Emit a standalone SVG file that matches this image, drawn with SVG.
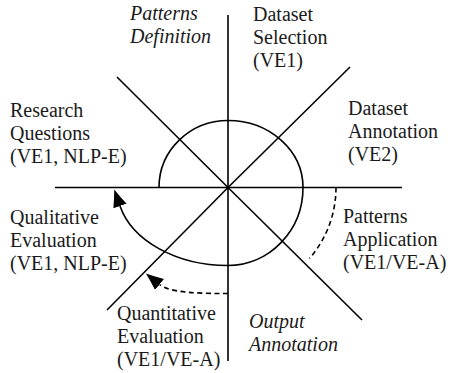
<svg xmlns="http://www.w3.org/2000/svg" width="453" height="373" viewBox="0 0 453 373">
<style>
.ln{stroke:#000;stroke-width:1.6;fill:none}
.ds{stroke:#000;stroke-width:1.6;fill:none;stroke-dasharray:5 3.5}
.tx{font-family:'Liberation Serif','Times New Roman',serif;font-size:20px;fill:#1a1a1a}
.it{font-style:italic}
</style>
<defs>
<marker id="ah" markerUnits="userSpaceOnUse" markerWidth="20" markerHeight="16" viewBox="0 -8 20 16" refX="0" refY="0" orient="auto">
<path d="M0,-7 Q9,-3 17.5,0 Q9,3 0,7 Z" fill="#000"/>
</marker>
</defs>
<rect width="453" height="373" fill="#fff"/>
<g id="connectors">
<line class="ln" x1="55" y1="187.5" x2="402" y2="187.5"/>
<line class="ln" x1="228" y1="15" x2="228" y2="361"/>
<line class="ln" x1="228" y1="187.5" x2="350" y2="67"/>
<line class="ln" x1="117" y1="77" x2="228" y2="187.5"/>
<line class="ln" x1="228" y1="187.5" x2="107" y2="310"/>
<line class="ln" x1="228" y1="187.5" x2="362" y2="320"/>
<path class="ln" d="M159,187.5 A69 67 0 0 1 228,120.5 A75 67 0 0 1 303,187.5 A75 78 0 0 1 228,265.5 A111 78 0 0 1 120,206" marker-end="url(#ah)"/>
<path class="ds" d="M336,187.5 A108 108 0 0 1 309.5,258.4"/>
<path class="ds" d="M228,293.5 C200,293.5 170,293 159.5,284.5" marker-end="url(#ah)"/>
</g>
<g id="patterns-definition"><text class="tx it"><tspan x="130" y="20">Patterns</tspan><tspan x="130" y="43">Definition</tspan></text></g>
<g id="dataset-selection"><text class="tx"><tspan x="253" y="21">Dataset</tspan><tspan x="253" y="44">Selection</tspan><tspan x="253" y="67">(VE1)</tspan></text></g>
<g id="research-questions"><text class="tx"><tspan x="10" y="117">Research</tspan><tspan x="10" y="140">Questions</tspan><tspan x="10" y="163">(VE1, NLP-E)</tspan></text></g>
<g id="dataset-annotation"><text class="tx"><tspan x="348" y="115">Dataset</tspan><tspan x="348" y="138">Annotation</tspan><tspan x="348" y="161">(VE2)</tspan></text></g>
<g id="qualitative-evaluation"><text class="tx"><tspan x="10" y="224">Qualitative</tspan><tspan x="10" y="247">Evaluation</tspan><tspan x="10" y="270">(VE1, NLP-E)</tspan></text></g>
<g id="patterns-application"><text class="tx"><tspan x="343" y="223">Patterns</tspan><tspan x="343" y="246">Application</tspan><tspan x="343" y="269">(VE1/VE-A)</tspan></text></g>
<g id="quantitative-evaluation"><text class="tx"><tspan x="117" y="320">Quantitative</tspan><tspan x="117" y="343">Evaluation</tspan><tspan x="117" y="366">(VE1/VE-A)</tspan></text></g>
<g id="output-annotation"><text class="tx it"><tspan x="249" y="328">Output</tspan><tspan x="249" y="351">Annotation</tspan></text></g>
</svg>
